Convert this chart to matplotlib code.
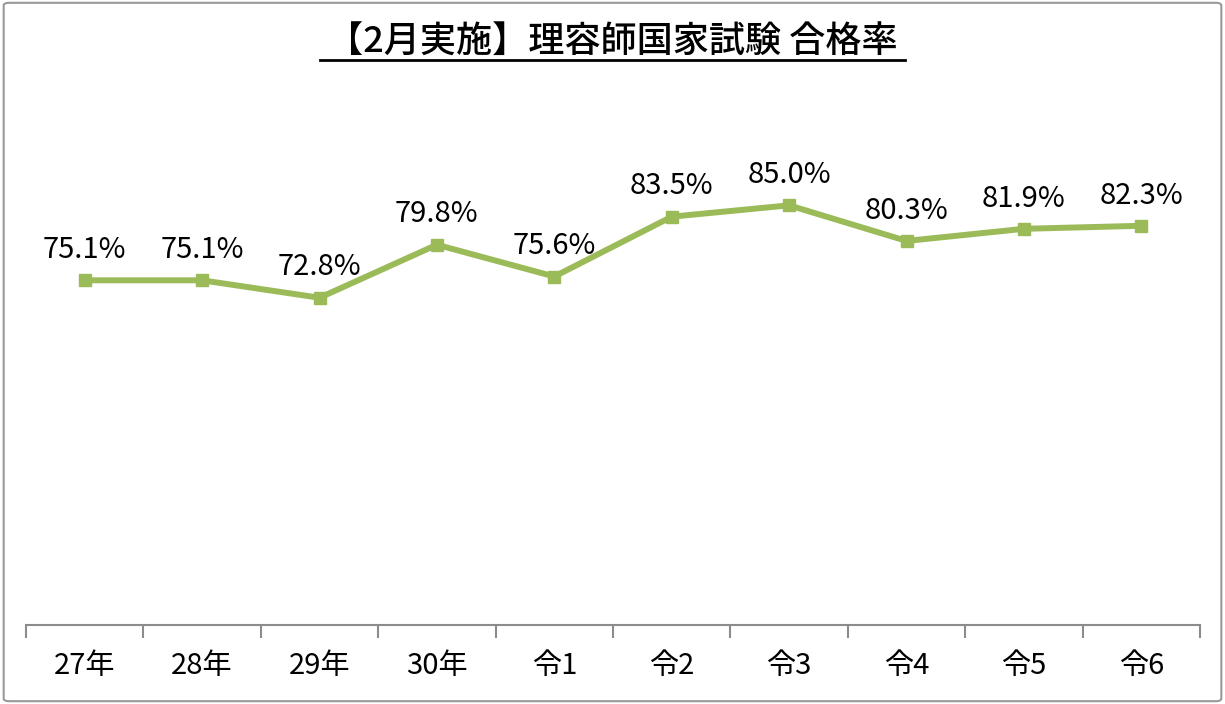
import matplotlib
matplotlib.use("Agg")
import matplotlib.pyplot as plt
from matplotlib.patches import FancyBboxPatch
from matplotlib.lines import Line2D

plt.rcParams['font.family'] = ['Noto Sans CJK JP', 'DejaVu Sans']

# data
categories = ['27年', '28年', '29年', '30年', '令1', '令2', '令3', '令4', '令5', '令6']
pass_rate = [75.1, 75.1, 72.8, 79.8, 75.6, 83.5, 85.0, 80.3, 81.9, 82.3]
title = '【2月実施】理容師国家試験 合格率'

green = '#9bbb59'
grey = '#8c8c8c'

fig = plt.figure(figsize=(12.25, 7.04), dpi=100)
ax = fig.add_axes([26 / 1225, 1 - 625 / 704, (1200 - 26) / 1225, (625 - 97) / 704])

x = range(len(categories))
ax.plot(x, pass_rate, color=green, lw=4.3, marker='s', ms=8, zorder=3)

for xi, v in zip(x, pass_rate):
    ax.annotate(f'{v:.1f}%', (xi, v), xytext=(0, 11), textcoords='offset points',
                ha='center', va='bottom', fontsize=21)

ax.set_xlim(-0.5, len(categories) - 0.5)
ax.set_ylim(29.6, 99.3)
ax.set_yticks([])
for s in ['left', 'right', 'top']:
    ax.spines[s].set_visible(False)
ax.spines['bottom'].set_color(grey)
ax.spines['bottom'].set_linewidth(1.5)

# category labels and tick marks between categories
ax.set_xticks(list(x))
ax.set_xticklabels(categories, fontsize=21)
ax.tick_params(axis='x', which='major', length=0, pad=19)
ax.set_xticks([i - 0.5 for i in range(len(categories) + 1)], minor=True)
ax.tick_params(axis='x', which='minor', length=9, width=1.5, color=grey)

# title with underline
t = fig.text(0.5, 1 - 43 / 704, title, ha='center', va='center', fontsize=26, weight='medium')
fig.canvas.draw()
bb = t.get_window_extent().transformed(fig.transFigure.inverted())
fig.add_artist(Line2D([bb.x0 - 0.006, bb.x1 + 0.006], [bb.y0 + 0.002, bb.y0 + 0.002],
                      transform=fig.transFigure, color='black', lw=2))

# outer frame
fig.add_artist(FancyBboxPatch((0.003, 0.004), 0.994, 0.992, boxstyle='round,pad=0,rounding_size=0.004',
                              transform=fig.transFigure, fill=False, edgecolor='#999999', lw=1.5))

fig.savefig('out.png', dpi=100)
